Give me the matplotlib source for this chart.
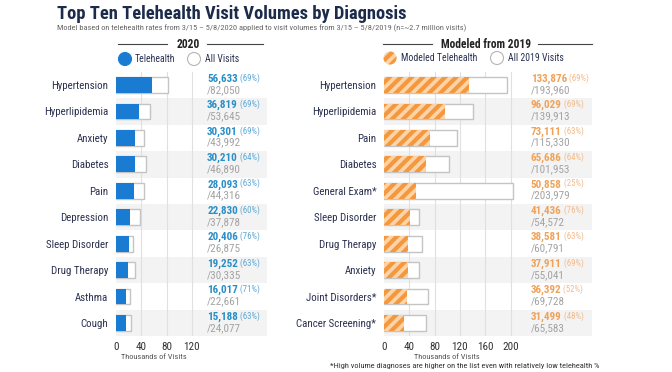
import matplotlib
matplotlib.use('Agg')
from matplotlib import pyplot as plt
from matplotlib.patches import Ellipse
from matplotlib.lines import Line2D

# left panel: actual 2020 visits
diag_2020 = ['Hypertension', 'Hyperlipidemia', 'Anxiety', 'Diabetes', 'Pain',
             'Depression', 'Sleep Disorder', 'Drug Therapy', 'Asthma', 'Cough']
tele_2020 = [56633, 36819, 30301, 30210, 28093, 22830, 20406, 19252, 16017, 15188]
all_2020 = [82050, 53645, 43992, 46890, 44316, 37878, 26875, 30335, 22661, 24077]
pct_2020 = [69, 69, 69, 64, 63, 60, 76, 63, 71, 63]
ticks_2020 = [0, 40, 80, 120]

# right panel: modeled from 2019 volumes
diag_2019 = ['Hypertension', 'Hyperlipidemia', 'Pain', 'Diabetes', 'General Exam*',
             'Sleep Disorder', 'Drug Therapy', 'Anxiety', 'Joint Disorders*', 'Cancer Screening*']
tele_2019 = [133876, 96029, 73111, 65686, 50858, 41436, 38581, 37911, 36392, 31499]
all_2019 = [193960, 139913, 115330, 101953, 203979, 54572, 60791, 55041, 69728, 65583]
pct_2019 = [69, 69, 63, 64, 25, 76, 63, 69, 52, 48]
ticks_2019 = [0, 40, 80, 120, 160, 200]

plt.rcParams['font.family'] = ['DejaVu Sans Condensed', 'Roboto Condensed', 'Roboto']
plt.rcParams['font.stretch'] = 'condensed'
plt.rcParams['hatch.linewidth'] = 3.0

W, H = 672, 372
NAVY = '#1c2b4a'
LABEL = '#2a3150'
BAND = '#f3f3f3'
GRID = '#e0e0e0'
BLUE = '#1a7bd3'
BLUE_TXT = '#2a8fc7'
BLUE_PCT = '#5aa8d6'
ORANGE = '#f4983f'
PEACH = '#fdd3a8'
ORANGE_TXT = '#f0a259'
ORANGE_PCT = '#f4b987'
GREY_TXT = '#a3a3a3'

fig = plt.figure(figsize=(W / 100, H / 100), dpi=100)


def fx(px):
    return px / W


def fy(py):
    return 1 - py / H


PX_PER_K = 0.633   # pixels per thousand visits
ROWS_TOP, ROWS_BOT = 71.8, 336.2


def draw_panel(left_px, right_px, names, tele, total, pct, ticks, text_x,
               val_color, pct_color, hatched):
    ax = fig.add_axes([fx(left_px), fy(ROWS_BOT), (right_px - left_px) / W,
                       (ROWS_BOT - ROWS_TOP) / H])
    ax.set_xlim(0, (right_px - left_px) / PX_PER_K)
    ax.set_ylim(len(names) - 0.5, -0.5)
    y = list(range(len(names)))

    for i in y:
        if i % 2 == 1:
            ax.axhspan(i - 0.5, i + 0.5, color=BAND, lw=0, zorder=0)
    for t in ticks[1:]:
        ax.axvline(t, color=GRID, lw=0.8, zorder=1)

    tot_k = [v / 1000 for v in total]
    tele_k = [v / 1000 for v in tele]
    ax.barh(y, tot_k, height=0.6, color='white', edgecolor='#c4c4c4', lw=1, zorder=2)
    if hatched:
        ax.barh(y, tele_k, height=0.6, color=PEACH, edgecolor=ORANGE, lw=0,
                hatch='///', zorder=3)
    else:
        ax.barh(y, tele_k, height=0.6, color=BLUE, lw=0, zorder=3)

    for i in y:
        num = ax.text(text_x, i - 0.24, f'{tele[i]:,}', fontsize=8, fontweight='bold',
                      color=val_color, va='center', ha='left')
        ax.annotate(f' ({pct[i]}%)', xy=(1, 0.58), xycoords=num, fontsize=6.3,
                    color=pct_color, va='center', ha='left')
        ax.text(text_x, i + 0.18, f'/{total[i]:,}', fontsize=8, color=GREY_TXT,
                va='center', ha='left')

    ax.set_yticks(y)
    ax.set_yticklabels(names, fontsize=7.8, color=LABEL)
    ax.set_xticks(ticks)
    ax.set_xticklabels([str(t) for t in ticks], fontsize=8, color='#333333')
    ax.tick_params(left=False, bottom=False, pad=2)
    ax.tick_params(axis='x', pad=1)
    for s in ax.spines.values():
        s.set_visible(False)
    ax.text((ticks[0] + ticks[-1]) / 2, -0.08, 'Thousands of Visits',
            transform=ax.get_xaxis_transform(), fontsize=6, color='#555555',
            ha='center', va='center')
    return ax


ax_l = draw_panel(116, 267, diag_2020, tele_2020, all_2020, pct_2020, ticks_2020,
                  144, BLUE_TXT, BLUE_PCT, False)
ax_r = draw_panel(384, 592, diag_2019, tele_2019, all_2019, pct_2019, ticks_2019,
                  232, ORANGE_TXT, ORANGE_PCT, True)

# title block
fig.text(fx(57), fy(14), 'Top Ten Telehealth Visit Volumes by Diagnosis', fontsize=13.3,
         fontweight='bold', color=NAVY, ha='left', va='center')
fig.text(fx(57), fy(28), 'Model based on telehealth rates from 3/15 \u2013 5/8/2020 applied to '
         'visit volumes from 3/15 \u2013 5/8/2019 (n=~2.7 million visits)',
         fontsize=6, color='#666666', ha='left', va='center')


def header(text, cx, l1, l2, yy):
    fig.text(fx(cx), fy(yy), text, fontsize=8.3, fontweight='bold', color='#222222',
             ha='center', va='center')
    for a, b in (l1, l2):
        fig.add_artist(Line2D([fx(a), fx(b)], [fy(yy), fy(yy)], color='#444444', lw=0.8))


def legend_dot(cx, cy, face, edge, hatch=None):
    e = Ellipse((fx(cx), fy(cy)), 13 / W, 13 / H, transform=fig.transFigure,
                facecolor=face, edgecolor=edge, lw=0.8 if hatch is None else 0, hatch=hatch)
    fig.add_artist(e)


header('2020', 188, (118, 167), (207, 263), 44)
legend_dot(125, 59, BLUE, BLUE)
fig.text(fx(135), fy(59), 'Telehealth', fontsize=7, color=LABEL, va='center')
legend_dot(194, 59, 'white', '#b5b5b5')
fig.text(fx(205), fy(59), 'All Visits', fontsize=7, color=LABEL, va='center')

header('Modeled from 2019', 486, (383, 432), (538, 592), 44)
legend_dot(390, 58, PEACH, ORANGE, hatch='///')
fig.text(fx(401), fy(58), 'Modeled Telehealth', fontsize=7, color=LABEL, va='center')
legend_dot(497, 58, 'white', '#b5b5b5')
fig.text(fx(508), fy(58), 'All 2019 Visits', fontsize=7, color=LABEL, va='center')

fig.text(fx(465), fy(366), '*High volume diagnoses are higher on the list even with '
         'relatively low telehealth %', fontsize=6, color='#333333',
         ha='center', va='center')

fig.savefig('out.png', dpi=100)
